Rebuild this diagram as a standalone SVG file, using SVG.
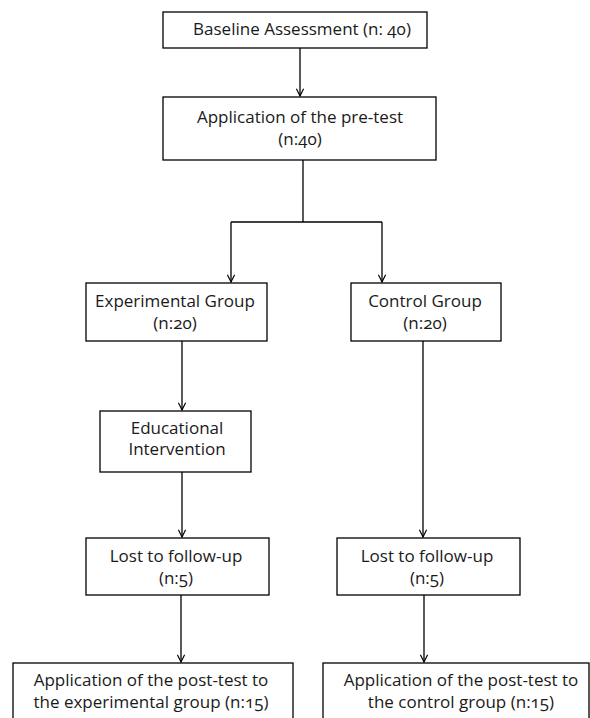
<svg xmlns="http://www.w3.org/2000/svg" width="590" height="718" viewBox="0 0 590 718">
<style>
  .box { fill: #fff; stroke: #000; stroke-width: 1.3; }
  .lbl { font-family: "Open Sans", "Noto Sans", "DejaVu Sans", sans-serif; font-size: 17px; fill: #1a1a1a; text-anchor: middle; font-variant-numeric: oldstyle-nums; }
  .edge { fill: none; stroke: #000; stroke-width: 1.3; }
</style>
<defs>
  <marker id="arr" viewBox="0 0 10 10" refX="9" refY="5" markerWidth="9" markerHeight="9" markerUnits="userSpaceOnUse" orient="auto">
    <path d="M1,1 L9,5 L1,9" fill="none" stroke="#000" stroke-width="1.3"/>
  </marker>
</defs>
<rect width="590" height="718" fill="#fff"/>
<g id="connectors">
  <line class="edge" x1="300" y1="48" x2="300" y2="96" marker-end="url(#arr)"/>
  <polyline class="edge" points="303,160 303,222"/>
  <polyline class="edge" points="231,222 382,222"/>
  <line class="edge" x1="231" y1="222" x2="231" y2="282" marker-end="url(#arr)"/>
  <line class="edge" x1="382" y1="222" x2="382" y2="282" marker-end="url(#arr)"/>
  <line class="edge" x1="182" y1="341" x2="182" y2="410" marker-end="url(#arr)"/>
  <line class="edge" x1="182" y1="472" x2="182" y2="537" marker-end="url(#arr)"/>
  <line class="edge" x1="423" y1="341" x2="423" y2="537" marker-end="url(#arr)"/>
  <line class="edge" x1="181" y1="595" x2="181" y2="662" marker-end="url(#arr)"/>
  <line class="edge" x1="424" y1="595" x2="424" y2="662" marker-end="url(#arr)"/>
</g>
<g id="baseline">
  <rect class="box" x="163" y="12" width="264" height="36"/>
  <text class="lbl" x="302" y="35">Baseline Assessment (n: 40)</text>
</g>
<g id="pretest">
  <rect class="box" x="163" y="97" width="273" height="63"/>
  <text class="lbl" x="300" y="123">Application of the pre-test</text>
  <text class="lbl" x="300" y="145">(n:40)</text>
</g>
<g id="experimental">
  <rect class="box" x="86" y="283" width="181" height="58"/>
  <text class="lbl" x="175" y="307">Experimental Group</text>
  <text class="lbl" x="175" y="329">(n:20)</text>
</g>
<g id="control">
  <rect class="box" x="351" y="283" width="150" height="58"/>
  <text class="lbl" x="425" y="307">Control Group</text>
  <text class="lbl" x="425" y="329">(n:20)</text>
</g>
<g id="intervention">
  <rect class="box" x="100" y="411" width="151" height="61"/>
  <text class="lbl" x="177" y="434">Educational</text>
  <text class="lbl" x="177" y="455">Intervention</text>
</g>
<g id="lost-exp">
  <rect class="box" x="86" y="538" width="183" height="57"/>
  <text class="lbl" x="176" y="562">Lost to follow-up</text>
  <text class="lbl" x="176" y="584">(n:5)</text>
</g>
<g id="lost-ctrl">
  <rect class="box" x="337" y="538" width="183" height="57"/>
  <text class="lbl" x="427" y="562">Lost to follow-up</text>
  <text class="lbl" x="427" y="584">(n:5)</text>
</g>
<g id="post-exp">
  <rect class="box" x="13" y="663" width="280" height="70"/>
  <text class="lbl" x="151" y="686">Application of the post-test to</text>
  <text class="lbl" x="151" y="708">the experimental group (n:15)</text>
</g>
<g id="post-ctrl">
  <rect class="box" x="323" y="663" width="266" height="70"/>
  <text class="lbl" x="461" y="686">Application of the post-test to</text>
  <text class="lbl" x="461" y="708">the control group (n:15)</text>
</g>
</svg>
